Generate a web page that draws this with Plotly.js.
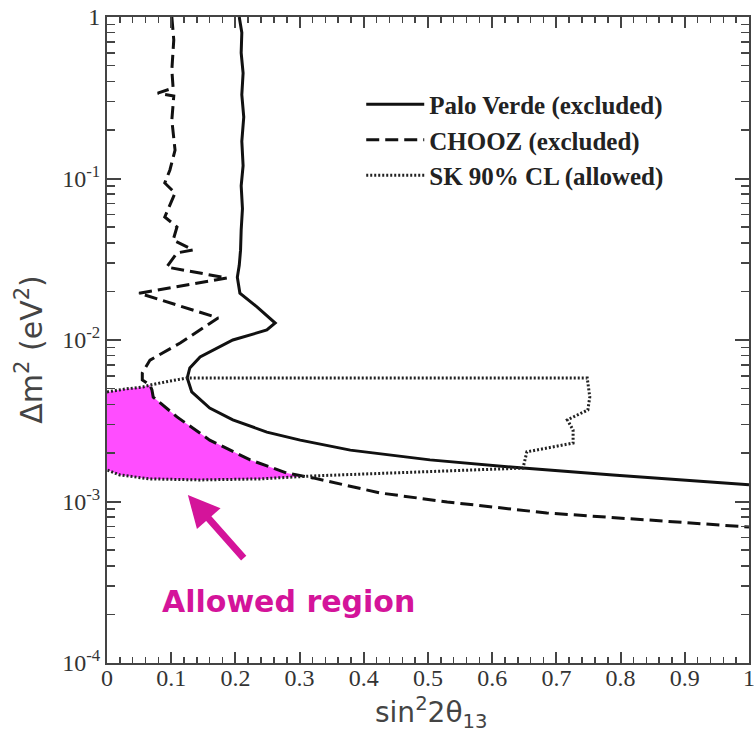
<!DOCTYPE html>
<html>
<head>
<meta charset="utf-8">
<script src="https://cdn.plot.ly/plotly-3.0.1.min.js"></script>
<style>html,body{margin:0;padding:0;background:#fff;}#chart{width:754px;height:733px;}</style>
</head>
<body>
<div id="chart"></div>
<script>
// ---- Data ----
const seriesNames = ['Palo Verde (excluded)', 'CHOOZ (excluded)', 'SK 90% CL (allowed)'];

// Palo Verde exclusion contour (sin^2 2theta13, delta m^2 [eV^2])
const pvX = [0.206, 0.210, 0.209, 0.212, 0.210, 0.213, 0.210, 0.212, 0.209, 0.211, 0.209, 0.208, 0.206, 0.203,
             0.207, 0.234, 0.262, 0.249, 0.196, 0.145, 0.129, 0.125,
             0.132, 0.160, 0.196, 0.249, 0.301, 0.379, 0.503, 0.648, 0.788, 1.0];
const pvY = [1.0, 0.8, 0.6, 0.45, 0.33, 0.24, 0.17, 0.12, 0.09, 0.065, 0.048, 0.036, 0.029, 0.0245,
             0.0195, 0.0160, 0.01274, 0.01153, 0.0100, 0.00785, 0.00671, 0.00582,
             0.00477, 0.00379, 0.00320, 0.00269, 0.00240, 0.00208, 0.00181, 0.00161, 0.00146, 0.00127];

// CHOOZ exclusion contour
const choozX = [0.101, 0.104, 0.101, 0.103, 0.079, 0.104, 0.101, 0.106, 0.098, 0.090, 0.106, 0.098, 0.090, 0.109,
                0.103, 0.134, 0.109, 0.093, 0.187, 0.050, 0.173, 0.114, 0.067, 0.055, 0.055, 0.067, 0.070,
                0.072, 0.109, 0.160, 0.223, 0.280, 0.321, 0.425, 0.530, 0.685, 0.841, 1.0];
const choozY = [1.0, 0.721, 0.470, 0.363, 0.338, 0.324, 0.230, 0.150, 0.113, 0.0938, 0.0813, 0.0685, 0.0578, 0.0501,
                0.0416, 0.0361, 0.0346, 0.0283, 0.0242, 0.0195, 0.0137, 0.00958, 0.00751, 0.00625, 0.00565, 0.00526, 0.00490,
                0.00443, 0.00334, 0.00240, 0.00181, 0.00150, 0.00140, 0.00113, 0.000993, 0.000849, 0.000768, 0.000695];

// Super-Kamiokande 90% CL allowed contour
const skX = [0.0, 0.028, 0.056, 0.067, 0.098, 0.125, 0.300, 0.500, 0.748, 0.752, 0.749, 0.717, 0.726, 0.726,
             0.654, 0.648, 0.534, 0.425, 0.321, 0.238, 0.145, 0.067, 0.020, 0.0];
const skY = [0.00477, 0.00497, 0.00512, 0.00526, 0.00557, 0.00582, 0.00582, 0.00582, 0.00582, 0.00444, 0.00369, 0.00320, 0.00277, 0.00230,
             0.00203, 0.00161, 0.001545, 0.00150, 0.00144, 0.00138, 0.00136, 0.00138, 0.00146, 0.00157];

// Allowed region (inside SK, outside CHOOZ)
const allowedX = [0.0, 0.028, 0.056, 0.067, 0.070, 0.072, 0.109, 0.160, 0.223, 0.280, 0.305,
                  0.238, 0.145, 0.067, 0.020, 0.0];
const allowedY = [0.00477, 0.00497, 0.00512, 0.00526, 0.00490, 0.00443, 0.00334, 0.00240, 0.00181, 0.00150, 0.00143,
                  0.00138, 0.00136, 0.00138, 0.00146, 0.00157];

// Ticks
const xTickVals = [0, 0.1, 0.2, 0.3, 0.4, 0.5, 0.6, 0.7, 0.8, 0.9, 1];
const xTickText = ['0', '0.1', '0.2', '0.3', '0.4', '0.5', '0.6', '0.7', '0.8', '0.9', '1'];
const yTickVals = [1e-4, 1e-3, 1e-2, 1e-1, 1];
const yTickText = ['10<sup>-4</sup>', '10<sup>-3</sup>', '10<sup>-2</sup>', '10<sup>-1</sup>', '1'];

const annotationText = 'Allowed region';
const xTitle = 'sin<sup>2</sup>2θ<sub>13</sub>';
const yTitle = 'Δm<sup>2</sup> (eV<sup>2</sup>)';

// ---- Chart ----
const ink = '#111';
const traces = [
  {x: allowedX, y: allowedY, type: 'scatter', mode: 'lines', fill: 'toself',
   fillcolor: '#ff4dff', line: {width: 0}, showlegend: false, hoverinfo: 'skip'},
  {x: pvX, y: pvY, name: seriesNames[0], type: 'scatter', mode: 'lines',
   line: {color: ink, width: 3}},
  {x: choozX, y: choozY, name: seriesNames[1], type: 'scatter', mode: 'lines',
   line: {color: ink, width: 3, dash: '13px,6px'}},
  {x: skX, y: skY, name: seriesNames[2], type: 'scatter', mode: 'lines',
   line: {color: '#222', width: 3, dash: '2px,2px'}}
];

const axisCommon = {
  showline: true, linecolor: '#444', linewidth: 2, mirror: 'ticks',
  ticks: 'inside', tickcolor: '#444', tickwidth: 2,
  showgrid: false, zeroline: false,
  tickfont: {family: 'Liberation Serif, serif', size: 24, color: '#333'},
  tickmode: 'array', ticklabeloverflow: 'allow'
};

const layout = {
  width: 754, height: 733,
  margin: {l: 107, r: 5, t: 17, b: 70},
  paper_bgcolor: '#fff', plot_bgcolor: '#fff',
  xaxis: Object.assign({}, axisCommon, {
    range: [0, 1], tickvals: xTickVals, ticktext: xTickText, ticklen: 11,
    ticklabelstandoff: -8,
    minor: {dtick: 0.02, ticks: 'inside', ticklen: 6, tickcolor: '#444', tickwidth: 1.5}
  }),
  yaxis: Object.assign({}, axisCommon, {
    type: 'log', range: [-4, 0], tickvals: yTickVals, ticktext: yTickText, ticklen: 14,
    minor: {dtick: 'D1', ticks: 'inside', ticklen: 8, tickcolor: '#444', tickwidth: 1.5}
  }),
  showlegend: true,
  legend: {
    x: 0.396, y: 0.9, xanchor: 'left', yanchor: 'top',
    bgcolor: 'rgba(255,255,255,0)', borderwidth: 0,
    font: {family: 'Liberation Serif, serif', size: 25, color: '#222', weight: 'bold'},
    itemwidth: 58, tracegroupgap: 0
  },
  annotations: [
    {xref: 'x', yref: 'y', x: 0.126, y: -2.96, ax: 0.215, ay: -3.36, axref: 'x', ayref: 'y',
     text: '', showarrow: true, arrowhead: 2, arrowsize: 0.9, arrowwidth: 7, arrowcolor: '#d4149a'},
    {xref: 'x', yref: 'y', x: 0.282, y: -3.62, text: annotationText, showarrow: false,
     font: {family: 'DejaVu Sans, sans-serif', size: 30, color: '#d4149a', weight: 'bold'}},
    {xref: 'paper', yref: 'paper', x: 0.505, y: -0.077, yanchor: 'middle', xanchor: 'center',
     text: xTitle, showarrow: false,
     font: {family: 'DejaVu Sans, sans-serif', size: 28, color: '#444'}},
    {xref: 'paper', yref: 'paper', x: -0.12, y: 0.485, xanchor: 'center', yanchor: 'middle',
     text: yTitle, textangle: -90, showarrow: false,
     font: {family: 'DejaVu Sans, sans-serif', size: 30, color: '#444'}}
  ]
};

Plotly.newPlot('chart', traces, layout, {displayModeBar: false, staticPlot: true});
</script>
</body>
</html>
